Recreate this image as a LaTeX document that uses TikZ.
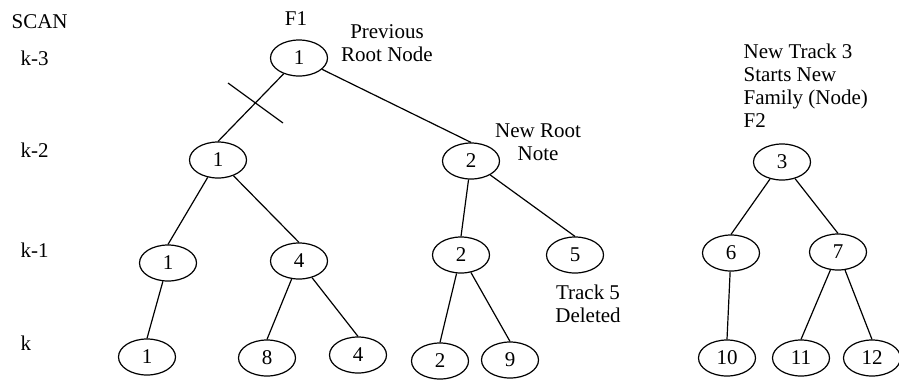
\documentclass[tikz,border=0pt]{standalone}
\usepackage{fontspec}
\setmainfont{Liberation Serif}
\usetikzlibrary{shapes.geometric}

\begin{document}
\begin{tikzpicture}[x=0.5pt,y=-0.5pt,line width=0.6pt,
  font=\fontsize{10.5}{11.5}\selectfont,
  trk/.style={draw,ellipse,minimum width=28.5pt,minimum height=18pt,inner sep=0pt},
  lbl/.style={inner sep=0pt,align=center}]
\useasboundingbox (0,0) rectangle (899,381);

% scan column
\node[lbl,anchor=base west] (scan) at (11,28) {SCAN};
\node[lbl,anchor=base west] (k3) at (20,65) {k-3};
\node[lbl,anchor=base west] (k2) at (20,157) {k-2};
\node[lbl,anchor=base west] (k1) at (20,257) {k-1};
\node[lbl,anchor=base west] (k0) at (20,350) {k};

% family F1
\node[trk] (n1) at (299,58) {1};
\node[trk] (n2) at (218,160) {1};
\node[trk] (n3) at (471,161) {2};
\node[trk] (n4) at (168,263) {1};
\node[trk] (n5) at (299,261) {4};
\node[trk] (n6) at (461,255) {2};
\node[trk] (n7) at (575,255) {5};
\node[trk] (n8) at (147,357) {1};
\node[trk] (n9) at (267,358) {8};
\node[trk] (n10) at (358,355) {4};
\node[trk] (n11) at (440,361) {2};
\node[trk] (n12) at (510,360) {9};

% family F2
\node[trk] (m1) at (782,162) {3};
\node[trk] (m2) at (731,253) {6};
\node[trk] (m3) at (838,252) {7};
\node[trk] (m4) at (727,358) {10};
\node[trk] (m5) at (801,358) {11};
\node[trk] (m6) at (872,358) {12};

\foreach \from/\to in {n1/n2,n1/n3,n2/n4,n2/n5,n4/n8,n5/n9,n5/n10,n3/n6,n3/n7,n6/n11,n6/n12,m1/m2,m1/m3,m2/m4,m3/m5,m3/m6}
\draw (\from) -- (\to.north);

% cut mark
\coordinate (c1) at (228,83);
\coordinate (c2) at (283,123);
\draw (c1) -- (c2);

% notes
\node[lbl] (f1) at (296,19) {F1};
\node[lbl] (prev) at (387,43) {Previous\\Root Node};
\node[lbl] (newroot) at (538,142) {New Root\\Note};
\node[lbl] (del) at (588,304) {Track 5\\Deleted};
\node[lbl,anchor=north west,align=left] (newtrk) at (743,43) {New Track 3\\Starts New\\Family (Node)\\F2};
\end{tikzpicture}
\end{document}
